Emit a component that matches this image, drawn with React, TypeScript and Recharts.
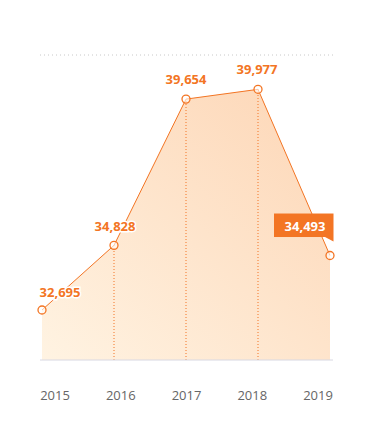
import * as React from 'react';
import { ComposedChart, Area, XAxis, YAxis, ReferenceLine, LabelList } from 'recharts';

const years = ['2015', '2016', '2017', '2018', '2019'];
const values = [32695, 34828, 39654, 39977, 34493];
// years that get a dotted drop line
const dropYears = ['2016', '2017', '2018'];

const ORANGE = '#f37524';
const Y_MIN = 31045;
const Y_MAX = 41110;
const FONT = '"Open Sans", "Noto Sans", sans-serif';

const data = years.map((year, i) => ({ year, value: values[i] }));

const fmt = (v: number) => v.toLocaleString('en-US');

// label offsets relative to each point
const labelOffsets = [[18, -18], [1, -19], [0, -20], [-1, -20]];

const ValueLabel = (props: any) => {
  const { x, y, value, index } = props;
  if (index === years.length - 1) {
    const left = x - 56, top = y - 42, w = 59.5, h = 23.5;
    return (
      <g>
        <rect x={left} y={top} width={w} height={h} fill={ORANGE} />
        <polygon points={`${x - 5},${top + h} ${left + w},${top + h} ${left + w},${top + h + 4.5}`} fill={ORANGE} />
        <text x={x - 25} y={y - 30} textAnchor="middle" dominantBaseline="central"
              fill="#fff" fontSize={13} fontWeight={700} fontFamily={FONT}>{fmt(value)}</text>
      </g>
    );
  }
  const [dx, dy] = labelOffsets[index] || [0, -20];
  return (
    <text x={x + dx} y={y + dy} textAnchor="middle" dominantBaseline="central"
          fill={ORANGE} stroke="#fff" strokeWidth={3} paintOrder="stroke"
          fontSize={13} fontWeight={700} fontFamily={FONT}>{fmt(value)}</text>
  );
};

export default function App() {
  return (
    <ComposedChart width={357} height={426} data={data}
                   margin={{ top: 47, right: 32, left: 32, bottom: 0 }}>
      <defs>
        <linearGradient id="areaFill" x1="0" y1="1" x2="1" y2="0">
          <stop offset="0%" stopColor="#fff3e2" />
          <stop offset="100%" stopColor="#fdd6b6" />
        </linearGradient>
      </defs>
      <XAxis dataKey="year" scale="point" padding={{ left: 2, right: 3 }} height={0} hide />
      <XAxis xAxisId="lab" dataKey="year" scale="point" padding={{ left: 15, right: 15 }}
             height={74} tickLine={false} tickSize={0} tickMargin={31}
             axisLine={{ stroke: '#d8d8e2' }}
             tick={{ fill: '#666', fontSize: 13, fontFamily: FONT }} />
      <YAxis domain={[Y_MIN, Y_MAX]} hide />
      <ReferenceLine y={Y_MAX} stroke="#c8c8c8" strokeDasharray="1 3" />
      <Area type="linear" dataKey="value" stroke={ORANGE} strokeWidth={1}
            fill="url(#areaFill)" fillOpacity={1} isAnimationActive={false}
            dot={false} activeDot={false} />
      {dropYears.map((yr) => (
        <ReferenceLine key={yr}
                       segment={[{ x: yr, y: Y_MIN }, { x: yr, y: values[years.indexOf(yr)] }]}
                       stroke={ORANGE} strokeDasharray="1 2" />
      ))}
      <Area type="linear" dataKey="value" stroke="none" fill="none" isAnimationActive={false}
            dot={{ r: 4, fill: '#fff', stroke: ORANGE, strokeWidth: 1.3 }} activeDot={false}>
        <LabelList dataKey="value" content={ValueLabel} />
      </Area>
    </ComposedChart>
  );
}
